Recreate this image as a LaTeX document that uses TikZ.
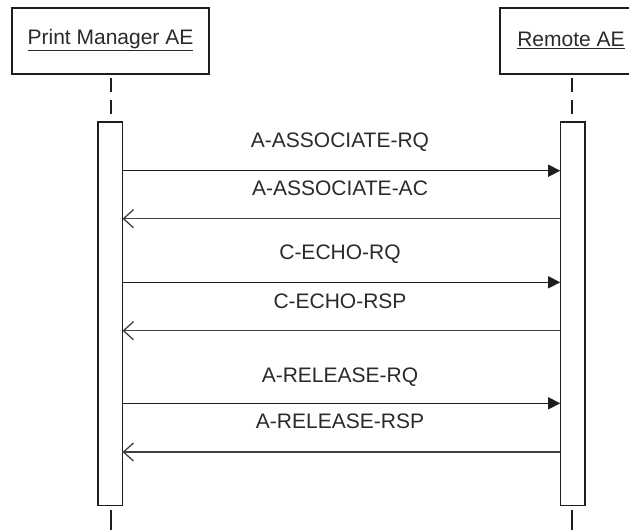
\documentclass[tikz,border=0pt]{standalone}
\usepackage{fontspec}
\setmainfont{Liberation Sans}
\usetikzlibrary{arrows.meta}
\definecolor{ink}{HTML}{1E1E1E}
\definecolor{txt}{HTML}{2A2A2A}
\tikzset{
  actor/.style={draw=ink, line width=1.5pt, inner sep=0pt, minimum height=66pt},
  barbox/.style={draw=ink, line width=1.5pt, fill=white, inner sep=0pt, minimum width=24.6pt, minimum height=383.7pt},
  life/.style={draw=ink, line width=2pt, dash pattern=on 14pt off 8pt, dash phase=-4pt},
  tick/.style={draw=ink, line width=2pt},
  req/.style={draw=ink, line width=1.5pt, -{Triangle[length=12pt,width=12pt]}},
  rsp/.style={draw=ink!85, line width=1.5pt, -{Straight Barb[length=10pt,width=18pt,line width=1.3pt]}},
  lbl/.style={text=txt, font=\fontsize{21}{25}\selectfont, inner sep=0pt},
}
\begin{document}
\begin{tikzpicture}[x=1pt,y=-1pt]
\useasboundingbox (0,0) rectangle (629,531);
\begin{scope}
\clip (0,0) rectangle (629,531);
% actors
\node[actor, minimum width=197pt] (pm) at (110.5,41) {};
\node[actor, minimum width=144pt] (rm) at (572,41) {};
\end{scope}
\node[lbl] (pmt) at (110.5,40) {\underline{Print Manager AE}};
\node[lbl] (rmt) at (571,40) {\underline{Remote AE}};
% activation bars
\node[barbox] (lbar) at (110.2,313.85) {};
\node[barbox] (rbar) at (572.9,313.85) {};
% lifelines
\coordinate (lt1) at (110.5,510);
\coordinate (lt2) at (110.5,530);
\coordinate (rt1) at (572,510);
\coordinate (rt2) at (572,530);
\coordinate (lb1) at (110.5,122);
\coordinate (rb1) at (572,122);
\coordinate (ls1) at (110.5,74);
\coordinate (rs1) at (572,74);
\draw[life] (ls1) -- (lb1);
\draw[life] (rs1) -- (rb1);
\draw[tick] (lt1) -- (lt2);
\draw[tick] (rt1) -- (rt2);
% message anchors
\foreach \n/\y in {1/170.7, 2/218.7, 3/282.3, 4/330.7, 5/403.3, 6/452}{
  \coordinate (L\n) at (122.5,\y);
  \coordinate (R\n) at (560.2,\y);
}
\draw[req] (L1) -- (R1);
\draw[rsp] (R2) -- (L2);
\draw[req] (L3) -- (R3);
\draw[rsp] (R4) -- (L4);
\draw[req] (L5) -- (R5);
\draw[rsp] (R6) -- (L6);
% labels
\node[lbl] (m1) at (340,141.7) {A-ASSOCIATE-RQ};
\node[lbl] (m2) at (340,188.3) {A-ASSOCIATE-AC};
\node[lbl] (m3) at (340,254) {C-ECHO-RQ};
\node[lbl] (m4) at (340,301.7) {C-ECHO-RSP};
\node[lbl] (m5) at (340,376.7) {A-RELEASE-RQ};
\node[lbl] (m6) at (340,421) {A-RELEASE-RSP};
\end{tikzpicture}
\end{document}
